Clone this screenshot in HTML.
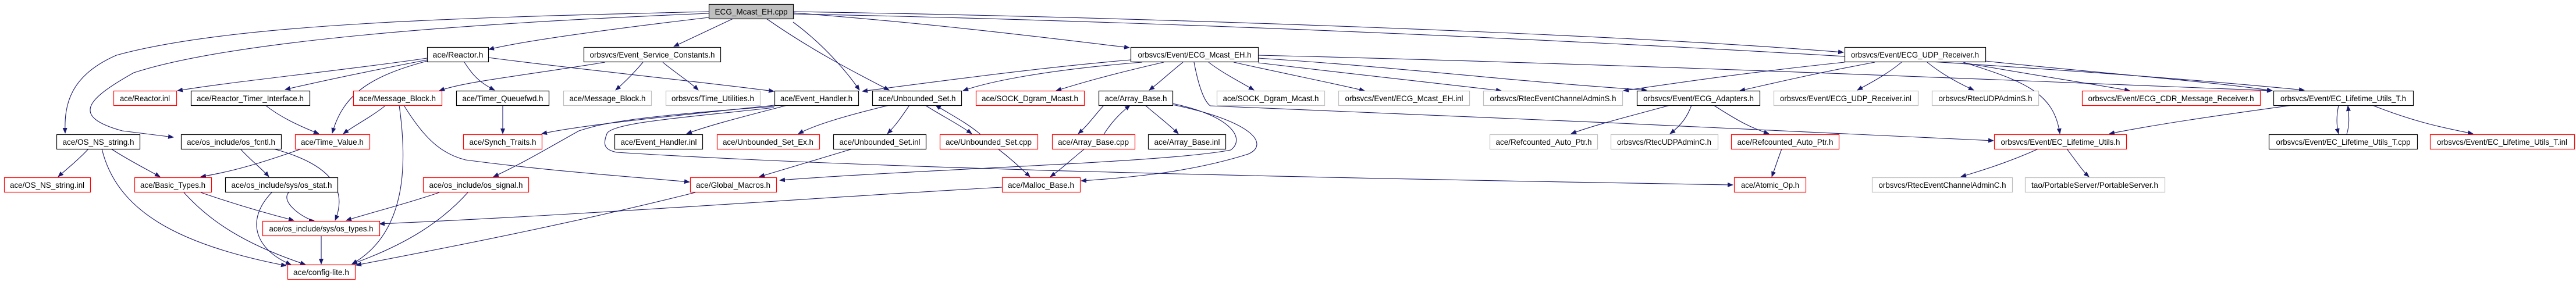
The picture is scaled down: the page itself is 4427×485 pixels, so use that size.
<!DOCTYPE html>
<html><head><meta charset="utf-8"><style>
html,body{margin:0;padding:0;background:#fff}
svg{display:block}
text{font-family:"Liberation Sans",sans-serif;font-size:14px;fill:#000}
.e{fill:none;stroke:#191970;stroke-width:1.1}
</style></head><body>
<svg width="4427" height="485" viewBox="0 0 4427 485" xmlns="http://www.w3.org/2000/svg">
<defs><marker id="a" markerWidth="10" markerHeight="8" refX="9" refY="4" orient="auto" markerUnits="userSpaceOnUse"><path d="M0,0 L10,4 L0,8 z" fill="#191970"/></marker></defs>
<g class="e" marker-end="url(#a)">
<path d="M1218,20 C800,30 400,40 200,95 C120,130 110,180 112,229"/>
<path d="M1218,23 C800,40 400,70 230,125 C150,170 120,200 210,225 L298,236"/>
<path d="M1218,30 C1050,50 900,70 840,85"/>
<path d="M1260,32 L1158,80"/>
<path d="M1317,32 C1400,90 1480,130 1528,155"/>
<path d="M1363,22 C1600,40 1800,65 1941,82"/>
<path d="M1363,20 C2000,30 2800,60 3168,90"/>
<path d="M1363,24 C2200,40 3400,100 3960,155"/>
<path d="M1363,38 C1420,80 1460,130 1477,155"/>
<path d="M734,100 C600,120 400,140 305,156"/>
<path d="M734,103 C620,125 550,140 490,154"/>
<path d="M734,105 C640,130 590,160 571,229"/>
<path d="M798,107 C810,125 820,140 850,155"/>
<path d="M839,99 C1000,120 1200,140 1330,157"/>
<path d="M456,181 C480,200 510,215 548,230"/>
<path d="M663,181 C640,200 610,215 590,230"/>
<path d="M686,181 C700,280 700,400 605,454"/>
<path d="M694,181 C730,240 760,265 800,275 C950,295 1100,305 1185,313"/>
<path d="M518,256 C450,280 400,295 345,304"/>
<path d="M152,256 C135,275 115,290 100,304"/>
<path d="M191,256 C220,275 250,290 275,304"/>
<path d="M175,256 C200,360 300,420 492,457"/>
<path d="M413,256 C430,275 450,290 462,304"/>
<path d="M470,256 C560,280 600,320 576,379"/>
<path d="M345,331 C400,350 450,365 505,379"/>
<path d="M316,331 C360,380 420,420 525,455"/>
<path d="M496,331 C480,350 530,380 540,379"/>
<path d="M467,331 C420,380 440,430 500,455"/>
<path d="M552,405 L552,454"/>
<path d="M755,331 C700,350 640,365 595,379"/>
<path d="M804,331 C760,380 700,420 605,454"/>
<path d="M1195,331 C1000,380 800,420 612,456"/>
<path d="M1722,322 C1400,340 1000,370 652,385"/>
<path d="M1040,107 C900,130 800,140 755,156"/>
<path d="M1105,107 C1090,125 1075,140 1058,155"/>
<path d="M1139,107 C1160,125 1185,140 1200,155"/>
<path d="M864,181 L864,230"/>
<path d="M1331,181 C1150,200 1000,215 931,230"/>
<path d="M1331,183 C1100,200 1040,210 995,225 C950,250 900,280 848,304"/>
<path d="M1353,181 C1280,200 1220,215 1180,230"/>
<path d="M1330,185 C1200,200 1050,210 1043,230 C1035,250 1040,258 1060,262 C1500,290 2200,305 2978,318"/>
<path d="M1528,181 C1450,200 1400,215 1372,230"/>
<path d="M1563,181 C1550,200 1540,215 1525,230"/>
<path d="M1590,181 C1620,200 1650,215 1670,230"/>
<path d="M1685,231 C1660,210 1630,195 1608,181"/>
<path d="M1465,256 C1400,275 1350,290 1305,304"/>
<path d="M1715,256 C1740,275 1755,290 1770,304"/>
<path d="M1864,256 C1840,275 1825,290 1805,304"/>
<path d="M1897,181 C1880,200 1870,215 1853,230"/>
<path d="M1897,231 C1910,210 1925,195 1942,181"/>
<path d="M1968,181 C1990,200 2010,215 2025,230"/>
<path d="M2015,178 C2120,200 2140,240 2115,258 C2000,280 1600,290 1340,310"/>
<path d="M2015,180 C2160,210 2180,250 2145,265 C2050,295 1950,305 1858,311"/>
<path d="M1943,103 C1800,115 1650,135 1482,157"/>
<path d="M1963,107 C1800,120 1700,140 1655,156"/>
<path d="M2000,107 C1900,130 1850,145 1815,156"/>
<path d="M2033,107 C2010,125 1995,140 1975,155"/>
<path d="M2077,107 C2100,125 2130,140 2155,155"/>
<path d="M2120,107 C2200,125 2300,145 2345,156"/>
<path d="M2162,108 C2300,125 2450,140 2580,156"/>
<path d="M2162,100 C2400,115 2600,140 2830,155"/>
<path d="M2052,107 C2060,150 2070,175 2080,182 C2500,200 3000,220 3426,242"/>
<path d="M2162,95 C2800,110 3500,140 3905,156"/>
<path d="M2870,181 C2800,200 2740,215 2700,230"/>
<path d="M2907,181 C2900,200 2890,215 2870,230"/>
<path d="M2945,181 C2990,210 3010,220 3040,230"/>
<path d="M3062,256 C3055,275 3050,290 3045,304"/>
<path d="M3170,107 C3000,125 2900,140 2790,156"/>
<path d="M3222,107 C3100,130 3040,145 2990,156"/>
<path d="M3268,107 C3240,130 3210,145 3192,155"/>
<path d="M3312,107 C3340,130 3370,145 3392,155"/>
<path d="M3374,107 C3480,140 3530,160 3540,230"/>
<path d="M3375,108 C3500,130 3600,145 3660,156"/>
<path d="M3412,105 C3600,125 3800,140 3905,156"/>
<path d="M3503,256 C3450,280 3400,295 3370,304"/>
<path d="M3552,256 C3570,280 3580,295 3590,304"/>
<path d="M3939,181 C3800,200 3700,215 3625,230"/>
<path d="M4019,181 C4015,200 4015,215 4019,230"/>
<path d="M4033,231 C4038,215 4037,200 4035,182"/>
<path d="M4077,181 C4150,210 4200,220 4250,230"/>
</g>
<g stroke-width="1.2">
<rect x="1218.5" y="7.5" width="145" height="25" fill="#bfbfbf" stroke="#000"/>
<text x="1291" y="25" text-anchor="middle" textLength="125" lengthAdjust="spacingAndGlyphs">ECG_Mcast_EH.cpp</text>
</g>
<g fill="#fff" stroke-width="1.2">
<rect x="734.5" y="81.5" width="105" height="25" stroke="#000"/><text x="787" y="99" text-anchor="middle" textLength="87" lengthAdjust="spacingAndGlyphs">ace/Reactor.h</text>
<rect x="1003.5" y="81.5" width="235" height="25" stroke="#000"/><text x="1121" y="99" text-anchor="middle" textLength="215" lengthAdjust="spacingAndGlyphs">orbsvcs/Event_Service_Constants.h</text>
<rect x="1943.5" y="81.5" width="219" height="25" stroke="#000"/><text x="2053" y="99" text-anchor="middle" textLength="195" lengthAdjust="spacingAndGlyphs">orbsvcs/Event/ECG_Mcast_EH.h</text>
<rect x="3170.5" y="81.5" width="242" height="25" stroke="#000"/><text x="3291" y="99" text-anchor="middle" textLength="220" lengthAdjust="spacingAndGlyphs">orbsvcs/Event/ECG_UDP_Receiver.h</text>

<rect x="195.5" y="156.5" width="108" height="25" stroke="#f00"/><text x="249" y="174" text-anchor="middle" textLength="86" lengthAdjust="spacingAndGlyphs">ace/Reactor.inl</text>
<rect x="328.5" y="156.5" width="204" height="25" stroke="#000"/><text x="430" y="174" text-anchor="middle" textLength="184" lengthAdjust="spacingAndGlyphs">ace/Reactor_Timer_Interface.h</text>
<rect x="607.5" y="156.5" width="152" height="25" stroke="#f00"/><text x="683" y="174" text-anchor="middle" textLength="132" lengthAdjust="spacingAndGlyphs">ace/Message_Block.h</text>
<rect x="784.5" y="156.5" width="159" height="25" stroke="#000"/><text x="864" y="174" text-anchor="middle" textLength="139" lengthAdjust="spacingAndGlyphs">ace/Timer_Queuefwd.h</text>
<rect x="968.5" y="156.5" width="151" height="25" stroke="#bfbfbf"/><text x="1044" y="174" text-anchor="middle" textLength="131" lengthAdjust="spacingAndGlyphs">ace/Message_Block.h</text>
<rect x="1144.5" y="156.5" width="162" height="25" stroke="#bfbfbf"/><text x="1225" y="174" text-anchor="middle" textLength="142" lengthAdjust="spacingAndGlyphs">orbsvcs/Time_Utilities.h</text>
<rect x="1331.5" y="156.5" width="144" height="25" stroke="#000"/><text x="1403" y="174" text-anchor="middle" textLength="124" lengthAdjust="spacingAndGlyphs">ace/Event_Handler.h</text>
<rect x="1499.5" y="156.5" width="153" height="25" stroke="#000"/><text x="1576" y="174" text-anchor="middle" textLength="133" lengthAdjust="spacingAndGlyphs">ace/Unbounded_Set.h</text>
<rect x="1677.5" y="156.5" width="186" height="25" stroke="#f00"/><text x="1770" y="174" text-anchor="middle" textLength="166" lengthAdjust="spacingAndGlyphs">ace/SOCK_Dgram_Mcast.h</text>
<rect x="1888.5" y="156.5" width="127" height="25" stroke="#000"/><text x="1952" y="174" text-anchor="middle" textLength="107" lengthAdjust="spacingAndGlyphs">ace/Array_Base.h</text>
<rect x="2091.5" y="156.5" width="185" height="25" stroke="#bfbfbf"/><text x="2184" y="174" text-anchor="middle" textLength="165" lengthAdjust="spacingAndGlyphs">ace/SOCK_Dgram_Mcast.h</text>
<rect x="2300.5" y="156.5" width="225" height="25" stroke="#bfbfbf"/><text x="2413" y="174" text-anchor="middle" textLength="203" lengthAdjust="spacingAndGlyphs">orbsvcs/Event/ECG_Mcast_EH.inl</text>
<rect x="2549.5" y="156.5" width="239" height="25" stroke="#bfbfbf"/><text x="2669" y="174" text-anchor="middle" textLength="217" lengthAdjust="spacingAndGlyphs">orbsvcs/RtecEventChannelAdminS.h</text>
<rect x="2813.5" y="156.5" width="211" height="25" stroke="#000"/><text x="2919" y="174" text-anchor="middle" textLength="190" lengthAdjust="spacingAndGlyphs">orbsvcs/Event/ECG_Adapters.h</text>
<rect x="3048.5" y="156.5" width="248" height="25" stroke="#bfbfbf"/><text x="3172" y="174" text-anchor="middle" textLength="226" lengthAdjust="spacingAndGlyphs">orbsvcs/Event/ECG_UDP_Receiver.inl</text>
<rect x="3320.5" y="156.5" width="183" height="25" stroke="#bfbfbf"/><text x="3412" y="174" text-anchor="middle" textLength="161" lengthAdjust="spacingAndGlyphs">orbsvcs/RtecUDPAdminS.h</text>
<rect x="3578.5" y="156.5" width="306" height="25" stroke="#f00"/><text x="3731" y="174" text-anchor="middle" textLength="285" lengthAdjust="spacingAndGlyphs">orbsvcs/Event/ECG_CDR_Message_Receiver.h</text>
<rect x="3907.5" y="156.5" width="240" height="25" stroke="#000"/><text x="4027" y="174" text-anchor="middle" textLength="216" lengthAdjust="spacingAndGlyphs">orbsvcs/Event/EC_Lifetime_Utils_T.h</text>

<rect x="97.5" y="231.5" width="143" height="25" stroke="#000"/><text x="169" y="249" text-anchor="middle" textLength="123" lengthAdjust="spacingAndGlyphs">ace/OS_NS_string.h</text>
<rect x="311.5" y="231.5" width="172" height="25" stroke="#000"/><text x="397" y="249" text-anchor="middle" textLength="152" lengthAdjust="spacingAndGlyphs">ace/os_include/os_fcntl.h</text>
<rect x="507.5" y="231.5" width="128" height="25" stroke="#f00"/><text x="571" y="249" text-anchor="middle" textLength="108" lengthAdjust="spacingAndGlyphs">ace/Time_Value.h</text>
<rect x="796.5" y="231.5" width="135" height="25" stroke="#f00"/><text x="864" y="249" text-anchor="middle" textLength="115" lengthAdjust="spacingAndGlyphs">ace/Synch_Traits.h</text>
<rect x="1056.5" y="231.5" width="151" height="25" stroke="#000"/><text x="1132" y="249" text-anchor="middle" textLength="131" lengthAdjust="spacingAndGlyphs">ace/Event_Handler.inl</text>
<rect x="1232.5" y="231.5" width="176" height="25" stroke="#f00"/><text x="1320" y="249" text-anchor="middle" textLength="156" lengthAdjust="spacingAndGlyphs">ace/Unbounded_Set_Ex.h</text>
<rect x="1432.5" y="231.5" width="159" height="25" stroke="#000"/><text x="1512" y="249" text-anchor="middle" textLength="139" lengthAdjust="spacingAndGlyphs">ace/Unbounded_Set.inl</text>
<rect x="1615.5" y="231.5" width="168" height="25" stroke="#f00"/><text x="1699" y="249" text-anchor="middle" textLength="148" lengthAdjust="spacingAndGlyphs">ace/Unbounded_Set.cpp</text>
<rect x="1808.5" y="231.5" width="142" height="25" stroke="#f00"/><text x="1879" y="249" text-anchor="middle" textLength="122" lengthAdjust="spacingAndGlyphs">ace/Array_Base.cpp</text>
<rect x="1973.5" y="231.5" width="133" height="25" stroke="#000"/><text x="2040" y="249" text-anchor="middle" textLength="113" lengthAdjust="spacingAndGlyphs">ace/Array_Base.inl</text>
<rect x="2560.5" y="231.5" width="185" height="25" stroke="#bfbfbf"/><text x="2653" y="249" text-anchor="middle" textLength="165" lengthAdjust="spacingAndGlyphs">ace/Refcounted_Auto_Ptr.h</text>
<rect x="2768.5" y="231.5" width="184" height="25" stroke="#bfbfbf"/><text x="2860" y="249" text-anchor="middle" textLength="162" lengthAdjust="spacingAndGlyphs">orbsvcs/RtecUDPAdminC.h</text>
<rect x="2975.5" y="231.5" width="185" height="25" stroke="#f00"/><text x="3068" y="249" text-anchor="middle" textLength="165" lengthAdjust="spacingAndGlyphs">ace/Refcounted_Auto_Ptr.h</text>
<rect x="3427.5" y="231.5" width="227" height="25" stroke="#f00"/><text x="3541" y="249" text-anchor="middle" textLength="205" lengthAdjust="spacingAndGlyphs">orbsvcs/Event/EC_Lifetime_Utils.h</text>
<rect x="3899.5" y="231.5" width="255" height="25" stroke="#000"/><text x="4027" y="249" text-anchor="middle" textLength="231" lengthAdjust="spacingAndGlyphs">orbsvcs/Event/EC_Lifetime_Utils_T.cpp</text>
<rect x="4176.5" y="231.5" width="248" height="25" stroke="#f00"/><text x="4300" y="249" text-anchor="middle" textLength="224" lengthAdjust="spacingAndGlyphs">orbsvcs/Event/EC_Lifetime_Utils_T.inl</text>

<rect x="7.5" y="305.5" width="148" height="25" stroke="#f00"/><text x="81" y="323" text-anchor="middle" textLength="128" lengthAdjust="spacingAndGlyphs">ace/OS_NS_string.inl</text>
<rect x="231.5" y="305.5" width="132" height="25" stroke="#f00"/><text x="297" y="323" text-anchor="middle" textLength="112" lengthAdjust="spacingAndGlyphs">ace/Basic_Types.h</text>
<rect x="387.5" y="305.5" width="193" height="25" stroke="#000"/><text x="484" y="323" text-anchor="middle" textLength="173" lengthAdjust="spacingAndGlyphs">ace/os_include/sys/os_stat.h</text>
<rect x="727.5" y="305.5" width="181" height="25" stroke="#f00"/><text x="818" y="323" text-anchor="middle" textLength="161" lengthAdjust="spacingAndGlyphs">ace/os_include/os_signal.h</text>
<rect x="1186.5" y="305.5" width="148" height="25" stroke="#f00"/><text x="1260" y="323" text-anchor="middle" textLength="128" lengthAdjust="spacingAndGlyphs">ace/Global_Macros.h</text>
<rect x="1722.5" y="305.5" width="134" height="25" stroke="#f00"/><text x="1789" y="323" text-anchor="middle" textLength="114" lengthAdjust="spacingAndGlyphs">ace/Malloc_Base.h</text>
<rect x="2980.5" y="305.5" width="123" height="25" stroke="#f00"/><text x="3042" y="323" text-anchor="middle" textLength="100" lengthAdjust="spacingAndGlyphs">ace/Atomic_Op.h</text>
<rect x="3217.5" y="305.5" width="241" height="25" stroke="#bfbfbf"/><text x="3338" y="323" text-anchor="middle" textLength="219" lengthAdjust="spacingAndGlyphs">orbsvcs/RtecEventChannelAdminC.h</text>
<rect x="3480.5" y="305.5" width="240" height="25" stroke="#bfbfbf"/><text x="3600" y="323" text-anchor="middle" textLength="218" lengthAdjust="spacingAndGlyphs">tao/PortableServer/PortableServer.h</text>

<rect x="451.5" y="380.5" width="201" height="25" stroke="#f00"/><text x="552" y="398" text-anchor="middle" textLength="179" lengthAdjust="spacingAndGlyphs">ace/os_include/sys/os_types.h</text>
<rect x="494.5" y="455.5" width="116" height="25" stroke="#f00"/><text x="552" y="473" text-anchor="middle" textLength="96" lengthAdjust="spacingAndGlyphs">ace/config-lite.h</text>
</g>
</svg>
</body></html>
